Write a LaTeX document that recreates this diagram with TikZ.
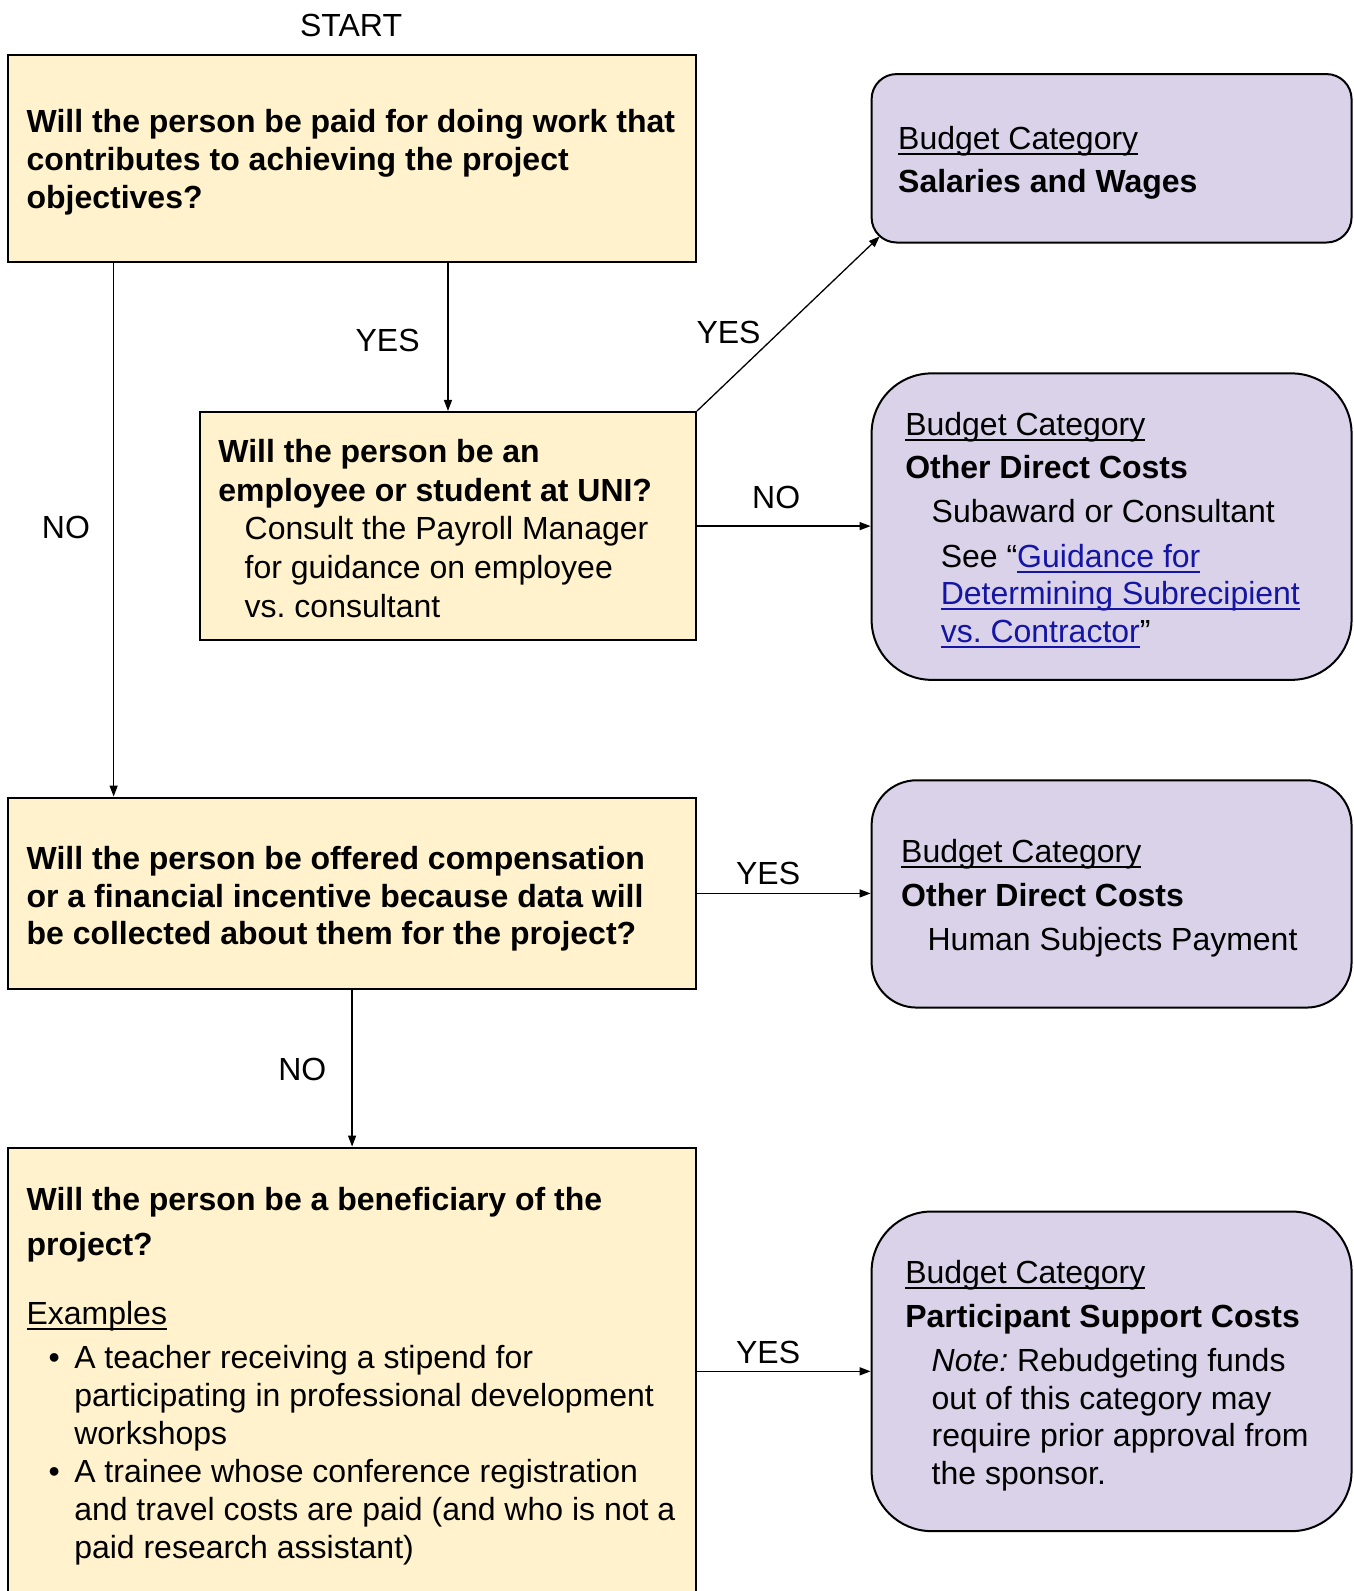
\documentclass[tikz,border=0pt]{standalone}
\usepackage{fontspec}
\setmainfont{Liberation Sans}
\usetikzlibrary{fit,arrows.meta}
\frenchspacing
\definecolor{qfill}{HTML}{FFF2CC}
\definecolor{cfill}{HTML}{D9D2E9}
\definecolor{linkblue}{RGB}{20,20,165}
\newcommand\ul[1]{\setbox0\hbox{#1}\rlap{\rule[-5.5pt]{\wd0}{1.8pt}}\box0}
\tikzset{
  qbox/.style={draw=black, line width=2pt, fill=qfill, inner sep=0pt},
  cbox/.style={draw=black, line width=2pt, fill=cfill, inner sep=0pt},
  txt/.style={anchor=base west, inner sep=0pt, yshift=-2pt, font=\fontsize{32}{37.6}\selectfont\frenchspacing},
  lbl/.style={inner sep=0pt, yshift=-2pt, font=\fontsize{32}{38}\selectfont},
  arr/.style={line width=1.3pt, -{Triangle[length=11pt,width=8pt]}}
}
\begin{document}
\begin{tikzpicture}[x=1.015pt,y=-1.015pt]
\useasboundingbox (0,0) rectangle (1334,1568);
\clip (0,0) rectangle (1334,1568);
% boxes
\node[qbox, fit={(8,54) (686,258)}] (q1) {};
\node[qbox, fit={(197,406) (686,631)}] (q2) {};
\node[qbox, fit={(8,786) (686,975)}] (q3) {};
\node[qbox, fit={(8,1131) (686,1600)}] (q4) {};
\node[cbox, rounded corners=25pt, fit={(859,73) (1332,239)}] (ca) {};
\node[cbox, rounded corners=60pt, fit={(859,368) (1332,670)}] (cb) {};
\node[cbox, rounded corners=45pt, fit={(859,769) (1332,993)}] (cc) {};
\node[cbox, rounded corners=60pt, fit={(859,1194) (1332,1509)}] (cd) {};
% texts
\node[lbl] (start) at (346,23) {START};
\node[txt] (t1) at (26,129) {\bfseries\begin{tabular}[t]{@{}l@{}}Will the person be paid for doing work that\\ contributes to achieving the project\\ objectives?\end{tabular}};
\node[txt, font=\fontsize{32}{38.6}\selectfont\frenchspacing] (t2) at (215,454) {\begin{tabular}[t]{@{}l@{}}\textbf{Will the person be an}\\ \textbf{employee or student at UNI?}\\ \hspace*{26.4pt}Consult the Payroll Manager\\ \hspace*{26.4pt}for guidance on employee\\ \hspace*{26.4pt}vs. consultant\end{tabular}};
\node[txt] (ta) at (885,145) {\begin{tabular}[t]{@{}l@{}}\ul{Budget Category}\\[6pt] \textbf{Salaries and Wages}\end{tabular}};
\node[txt] (tb) at (892,427) {\begin{tabular}[t]{@{}l@{}}\ul{Budget Category}\\[6pt] \textbf{Other Direct Costs}\\[6pt] \hspace*{26.4pt}Subaward or Consultant\\[7pt] \hspace*{35.5pt}See “\textcolor{linkblue}{\ul{Guidance for}}\\ \hspace*{35.5pt}\textcolor{linkblue}{\ul{Determining Subrecipient}}\\ \hspace*{35.5pt}\textcolor{linkblue}{\ul{vs. Contractor}}”\end{tabular}};
\node[txt] (t3) at (26,855) {\bfseries\begin{tabular}[t]{@{}l@{}}Will the person be offered compensation\\ or a financial incentive because data will\\ be collected about them for the project?\end{tabular}};
\node[txt] (tc) at (888,848) {\begin{tabular}[t]{@{}l@{}}\ul{Budget Category}\\[6pt] \textbf{Other Direct Costs}\\[7pt] \hspace*{26.4pt}Human Subjects Payment\end{tabular}};
\node[txt, font=\fontsize{32}{38}\selectfont\frenchspacing] (t4) at (26,1191) {\begin{tabular}[t]{@{}l@{}}\textbf{Will the person be a beneficiary of the}\\[6.6pt] \textbf{project?}\\[31pt] \ul{Examples}\\[6.6pt] \hspace*{22pt}\makebox[25.7pt][l]{•}A teacher receiving a stipend for\\ \hspace*{47.7pt}participating in professional development\\ \hspace*{47.7pt}workshops\\ \hspace*{22pt}\makebox[25.7pt][l]{•}A trainee whose conference registration\\ \hspace*{47.7pt}and travel costs are paid (and who is not a\\ \hspace*{47.7pt}paid research assistant)\end{tabular}};
\node[txt] (td) at (892,1263) {\begin{tabular}[t]{@{}l@{}}\ul{Budget Category}\\[6pt] \textbf{Participant Support Costs}\\[7pt] \hspace*{26.4pt}\textit{Note:} Rebudgeting funds\\ \hspace*{26.4pt}out of this category may\\ \hspace*{26.4pt}require prior approval from\\ \hspace*{26.4pt}the sponsor.\end{tabular}};
% labels
\node[lbl] (y1) at (382,334) {YES};
\node[lbl] (n1) at (65,518) {NO};
\node[lbl] (y2) at (718,326) {YES};
\node[lbl] (n2) at (765,488) {NO};
\node[lbl] (y3) at (757,859) {YES};
\node[lbl] (n3) at (298,1052) {NO};
\node[lbl] (y4) at (757,1331) {YES};
% connectors
\coordinate (nox) at (112,0);
\coordinate (atip) at (867,233);
\draw[arr] (q1.south -| q2.north) -- (q2.north);
\draw[arr] (q1.south -| nox) -- (q3.north -| nox);
\draw[arr] (q2.north east) -- (atip);
\draw[arr] (q2.east) -- (q2.east -| cb.west);
\draw[arr] (q3.east) -- (q3.east -| cc.west);
\draw[arr] (q3.south) -- (q4.north);
\draw[arr] (q4.east |- cd.west) -- (cd.west);
\end{tikzpicture}
\end{document}
